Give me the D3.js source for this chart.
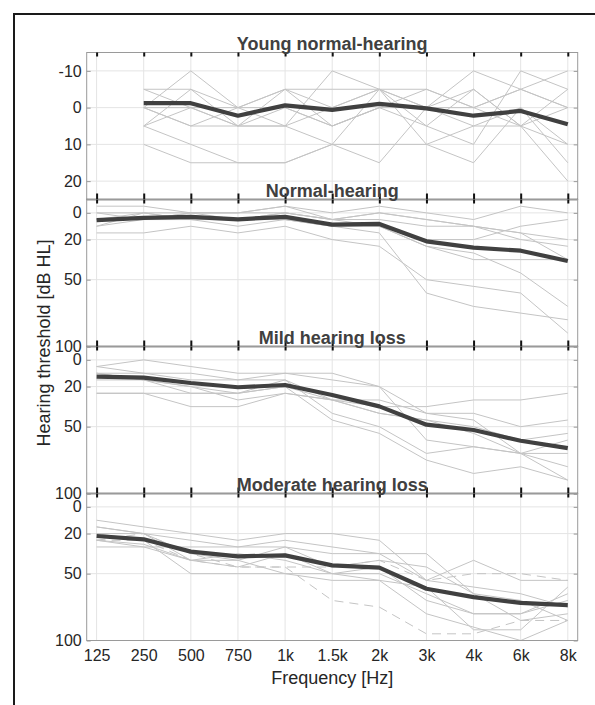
<!DOCTYPE html>
<html>
<head>
<meta charset="utf-8">
<script src="https://cdn.jsdelivr.net/npm/d3@7"></script>
<style>
  html, body { margin: 0; padding: 0; background: #fff; }
  svg { display: block; font-family: "Liberation Sans", Arial, Helvetica, sans-serif; }
</style>
</head>
<body>
<svg id="chart" width="595" height="705"></svg>
<script>
// ---------- DATA ----------
const frequencies = ["125", "250", "500", "750", "1k", "1.5k", "2k", "3k", "4k", "6k", "8k"];
const panelTitles = ["Young normal-hearing", "Normal-hearing", "Mild hearing loss", "Moderate hearing loss"];
const youngTicks = [-10, 0, 10, 20];
const lossTicks = [0, 20, 50, 100];
const youngDomain = [-15, 25];
const lossDomain = [-10, 100];

// Young normal-hearing (no data at 125 Hz)
const youngSubjects = [
  [null, -5, -5, 0, -5, -5, -5, -5, 0, -5, -10],
  [null, 0, -10, 0, -5, 0, -5, 0, -10, -5, 0],
  [null, 0, 0, 5, -5, 5, 0, 5, 10, -10, -5],
  [null, 5, -5, 5, 5, -10, -5, 0, 5, 0, 10],
  [null, 5, 10, 15, 15, 10, 15, 0, -5, 5, 20],
  [null, 0, 5, 0, 0, 5, 0, -5, 0, -5, 0],
  [null, 10, 15, 15, 15, 10, 10, 10, 15, 0, 15],
  [null, -5, 0, 5, 5, 0, -5, 10, 5, 5, 10],
  [null, 0, 5, 5, 0, 5, 0, 0, 0, 5, 0],
  [null, 5, 0, 0, 5, 10, -5, 5, -5, 5, -5]
];
const youngMean = [null, -1.2, -1.2, 2.2, -0.6, 0.6, -1.0, 0.2, 2.2, 0.9, 4.5];

// Normal-hearing
const normalSubjects = [
  [-5, -5, 0, 0, -5, 0, -5, 0, 5, -5, 0],
  [0, 0, 0, 0, 0, 5, 0, 5, 10, 15, 20],
  [10, 5, 0, 5, 5, 10, 15, 60, 70, 75, 80],
  [15, 15, 10, 15, 10, 20, 25, 50, 55, 60, 90],
  [5, 5, 5, 10, 5, 10, 10, 25, 30, 45, 70],
  [5, 0, 5, 5, 0, 5, 5, 10, 10, 20, 25],
  [0, 5, 5, 5, 0, 5, 0, 5, 10, 15, 35],
  [10, 0, 5, 5, 5, 10, 10, 20, 20, 10, 5],
  [5, 5, 0, 0, -5, 5, 10, 25, 35, 35, 35]
];
const normalMean = [5.5, 3.8, 3.0, 4.8, 3.0, 8.8, 8.3, 21.3, 26.0, 28.3, 36.0];

// Mild hearing loss
const mildSubjects = [
  [5, 0, 5, 10, 10, 10, 20, 40, 45, 70, 90],
  [5, 10, 10, 15, 10, 15, 20, 60, 65, 70, 70],
  [10, 10, 15, 15, 15, 30, 35, 35, 30, 30, 25],
  [25, 25, 25, 25, 20, 30, 30, 40, 40, 50, 45],
  [10, 15, 20, 25, 20, 45, 55, 75, 85, 80, 90],
  [15, 15, 25, 25, 15, 40, 50, 70, 65, 70, 60],
  [25, 25, 35, 35, 25, 30, 40, 45, 50, 60, 55],
  [10, 15, 20, 30, 25, 30, 40, 45, 55, 70, 80]
];
const mildMean = [12.5, 13.3, 17.3, 20.5, 18.8, 26.3, 34.8, 48.5, 52.5, 60.5, 66.0];

// Moderate hearing loss
const moderateSubjects = [
  [10, 15, 20, 25, 20, 20, 25, 55, 60, 65, 75],
  [15, 20, 25, 30, 25, 30, 35, 35, 65, 70, 85],
  [30, 30, 30, 30, 30, 35, 35, 55, 40, 55, 55],
  [15, 20, 40, 45, 35, 50, 50, 65, 80, 80, 70],
  [20, 25, 50, 50, 50, 55, 55, 80, 90, 100, 85],
  [25, 30, 40, 35, 40, 50, 45, 70, 80, 80, 65],
  [20, 20, 35, 40, 30, 45, 40, 45, 65, 85, 80],
  [25, 28, 40, 40, 50, 50, 55, 60, 92, 92, 60]
];
const moderateDashed = [
  [25, 20, 35, 45, 45, 70, 75, 95, 95, 85, 85],
  [25, 25, 40, 45, 45, 45, 40, 55, 50, 50, 55]
];
const moderateMean = [21.8, 24.3, 33.5, 37.0, 36.3, 43.8, 45.5, 61.3, 67.5, 71.8, 73.5];

const panelSolid = [youngSubjects, normalSubjects, mildSubjects, moderateSubjects];
const panelDashed = [[], [], [], moderateDashed];
const panelMeans = [youngMean, normalMean, mildMean, moderateMean];
const panelTicks = [youngTicks, lossTicks, lossTicks, lossTicks];
const panelDomains = [youngDomain, lossDomain, lossDomain, lossDomain];

// ---------- LAYOUT ----------
const svg = d3.select("#chart");
const left = 86.7, right = 577.7;
const top0 = 52.5, panelH = 147;

// outer frame (cropped at right/bottom)
svg.append("path")
  .attr("d", "M14,720 L14,14 L620,14")
  .attr("fill", "none").attr("stroke", "#1a1a1a").attr("stroke-width", 2);

const x = d3.scalePoint().domain(frequencies).range([left, right]).padding(0.21);

const lineGray = "#c4c4c4";
const gridGray = "#e4e4e4";
const boxGray = "#9a9a9a";
const fmt = d => String(d);

panelTitles.forEach((title, k) => {
  const top = top0 + k * panelH;
  const bottom = top + panelH;
  const y = d3.scaleLinear().domain(panelDomains[k]).range([top, bottom]);
  const g = svg.append("g");

  // grid
  g.append("g").selectAll("line.v").data(frequencies).join("line")
    .attr("x1", d => x(d)).attr("x2", d => x(d))
    .attr("y1", top).attr("y2", bottom)
    .attr("stroke", gridGray).attr("stroke-width", 1);
  g.append("g").selectAll("line.h").data(panelTicks[k]).join("line")
    .attr("x1", left).attr("x2", right)
    .attr("y1", d => y(d)).attr("y2", d => y(d))
    .attr("stroke", gridGray).attr("stroke-width", 1);

  const line = d3.line()
    .defined(d => d != null)
    .x((d, i) => x(frequencies[i]))
    .y(d => y(d));

  // clip
  const clipId = "clip" + k;
  svg.append("clipPath").attr("id", clipId).append("rect")
    .attr("x", left).attr("y", top).attr("width", right - left).attr("height", panelH);
  const data = g.append("g").attr("clip-path", `url(#${clipId})`);

  data.selectAll("path.subj").data(panelSolid[k]).join("path")
    .attr("d", line).attr("fill", "none")
    .attr("stroke", lineGray).attr("stroke-width", 1);
  data.selectAll("path.dash").data(panelDashed[k]).join("path")
    .attr("d", line).attr("fill", "none")
    .attr("stroke", lineGray).attr("stroke-width", 1)
    .attr("stroke-dasharray", "9,6");
  data.append("path").datum(panelMeans[k])
    .attr("d", line).attr("fill", "none")
    .attr("stroke", "#404040").attr("stroke-width", 4.2)
    .attr("stroke-linejoin", "round");

  // box
  g.append("rect").attr("x", left).attr("y", top)
    .attr("width", right - left).attr("height", panelH)
    .attr("fill", "none").attr("stroke", boxGray).attr("stroke-width", 1);

  // y axes (left labels, inward ticks both sides)
  const yAxis = d3.axisLeft(y).tickValues(panelTicks[k]).tickSize(-4).tickPadding(5)
    .tickFormat(fmt);
  const ya = g.append("g").attr("transform", `translate(${left},0)`).call(yAxis);
  ya.select(".domain").remove();
  ya.selectAll(".tick line").attr("stroke", boxGray);
  ya.selectAll(".tick text").attr("fill", "#262626").style("font-size", "16px")
    .style("font-family", "'Liberation Sans', Arial, sans-serif");
  const yAxisR = d3.axisRight(y).tickValues(panelTicks[k]).tickSize(-4).tickFormat("");
  const yr = g.append("g").attr("transform", `translate(${right},0)`).call(yAxisR);
  yr.select(".domain").remove();
  yr.selectAll(".tick line").attr("stroke", boxGray);

  // top tick marks (dark)
  const xTop = d3.axisBottom(x).tickSize(4).tickFormat("");
  const xt = g.append("g").attr("transform", `translate(0,${top})`).call(xTop);
  xt.select(".domain").remove();
  xt.selectAll(".tick line").attr("stroke", "#111").attr("stroke-width", 2);

  if (k < 3) {
    // bottom tick marks (dark, pointing up) and dark boundary line
    const xBot = d3.axisTop(x).tickSize(6).tickFormat("");
    const xb = g.append("g").attr("transform", `translate(0,${bottom})`).call(xBot);
    xb.select(".domain").remove();
    xb.selectAll(".tick line").attr("stroke", "#111").attr("stroke-width", 2);
    g.append("line").attr("x1", left).attr("x2", right)
      .attr("y1", bottom).attr("y2", bottom)
      .attr("stroke", "#2a2a2a").attr("stroke-width", 1.6);
  } else {
    const xAxis = d3.axisBottom(x).tickSize(0).tickPadding(9);
    const xa = g.append("g").attr("transform", `translate(0,${bottom})`).call(xAxis);
    xa.select(".domain").remove();
    xa.selectAll(".tick text").attr("fill", "#262626").style("font-size", "16px")
      .style("font-family", "'Liberation Sans', Arial, sans-serif");
  }
});

// titles (drawn last so they sit above neighbouring panels)
panelTitles.forEach((title, k) => {
  const top = top0 + k * panelH;
  svg.append("text")
    .attr("x", (left + right) / 2).attr("y", top - 2.5)
    .attr("text-anchor", "middle")
    .attr("fill", "#404040")
    .style("font-size", "18px").style("font-weight", "bold")
    .text(title);
});

// axis labels
svg.append("text")
  .attr("x", (left + right) / 2).attr("y", 684)
  .attr("text-anchor", "middle").attr("fill", "#262626")
  .style("font-size", "18px")
  .text("Frequency [Hz]");

svg.append("text")
  .attr("transform", "translate(49.5,343) rotate(-90)")
  .attr("text-anchor", "middle").attr("fill", "#262626")
  .style("font-size", "18px")
  .text("Hearing threshold [dB HL]");
</script>
</body>
</html>
